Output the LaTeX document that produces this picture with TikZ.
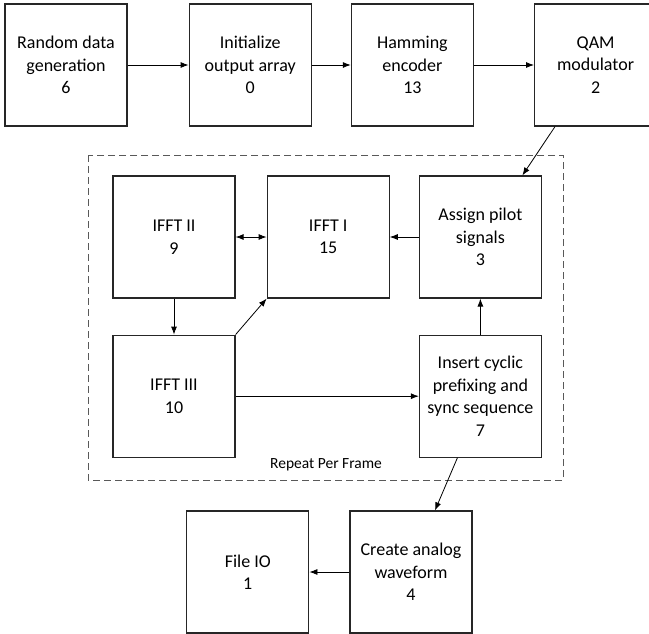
\documentclass[tikz,border=0pt]{standalone}
\usepackage{fontspec}
\setmainfont{Carlito}
\usepackage{tikz}
\usetikzlibrary{positioning,calc,arrows.meta}
\tikzset{blk/.style={draw=black!85, line width=1.2pt, minimum width=122pt, minimum height=122pt, inner sep=2pt, align=center, font=\fontsize{18}{22.5}\selectfont}}
\tikzset{arr/.style={draw, line width=0.8pt, -{Latex[length=8pt,width=6pt]}}}
\tikzset{arrb/.style={arr, {Latex[length=8pt,width=6pt]}-{Latex[length=8pt,width=6pt]}}}
\tikzset{frame/.style={draw=black!65, line width=1pt, dash pattern=on 7pt off 4pt}}

\begin{document}
\begin{tikzpicture}[x=1pt, y=-1pt]
	\useasboundingbox (0,0) rectangle (649,633);
	\node[blk] (rand) at (66,65) {Random data\\generation\\6};
	\node[blk,right=61pt of rand] (init) {Initialize\\output array\\0};
	\node[blk,right=39pt of init] (ham) {Hamming\\encoder\\13};
	\node[blk,right=60pt of ham] (qam) {QAM\\modulator\\2};
	% repeated part
	\draw[frame] (88,155) rectangle (563,480);
	\node[font=\fontsize{15.5}{18}\selectfont] (rep) at (326,465) {Repeat Per Frame};
	\node[blk] (ifft2) at (174,237) {IFFT II\\9};
	\node[blk,right=31pt of ifft2] (ifft1) {IFFT I\\15};
	\node[blk,right=29pt of ifft1] (pilot) {Assign pilot\\signals\\3};
	\node[blk,below=36pt of ifft2] (ifft3) {IFFT III\\10};
	\node[blk,below=36pt of pilot] (cyc) {Insert cyclic\\prefixing and\\sync sequence\\7};
	\node[blk] (wave) at (411,572) {Create analog\\waveform\\4};
	\node[blk,left=40pt of wave] (fio) {File IO\\1};
	\draw[arr] (rand) -- (init);
	\draw[arr] (init) -- (ham);
	\draw[arr] (ham) -- (qam);
	\draw[arr] ($(qam.south west)+(21,0)$) -- ($(pilot.north)+(42,0)$);
	\draw[arr] (pilot) -- (ifft1);
	\draw[arrb] (ifft2) -- (ifft1);
	\draw[arr] (ifft2) -- (ifft3);
	\draw[arr] (ifft3.north east) -- (ifft1.south west);
	\draw[arr] (ifft3) -- (cyc);
	\draw[arr] (cyc) -- (pilot);
	\draw[arr] ($(cyc.south)+(-23,0)$) -- ($(wave.north)+(24,0)$);
	\draw[arr] (wave) -- (fio);
\end{tikzpicture}
\end{document}
